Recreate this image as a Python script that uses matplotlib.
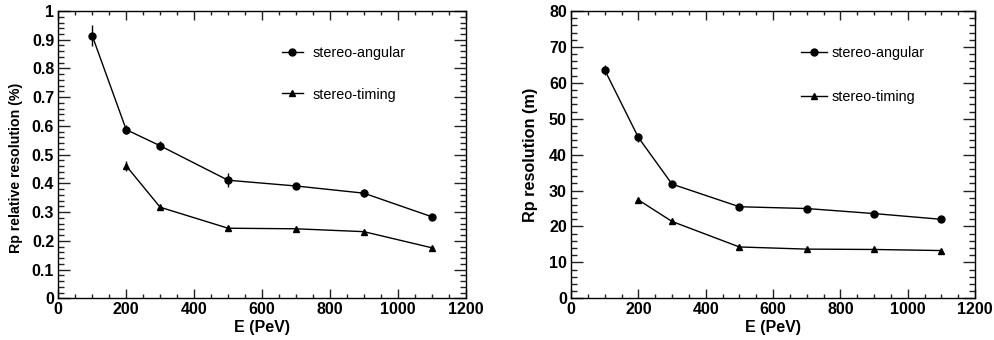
import matplotlib.pyplot as plt
from matplotlib.ticker import MultipleLocator, FuncFormatter

plt.rcParams['font.family'] = ['Liberation Sans', 'DejaVu Sans']

# energies (PeV)
e_angular = [100, 200, 300, 500, 700, 900, 1100]
e_timing = [200, 300, 500, 700, 900, 1100]

# Rp relative resolution (%)
rel_angular = [0.914, 0.587, 0.531, 0.411, 0.391, 0.366, 0.284]
rel_angular_err = [0.036, 0.015, 0.015, 0.024, 0.012, 0.013, 0.008]
rel_timing = [0.461, 0.317, 0.244, 0.242, 0.232, 0.176]
rel_timing_err = [0.018, 0.008, 0.006, 0.006, 0.006, 0.005]

# Rp resolution (m)
res_angular = [63.6, 44.8, 31.8, 25.5, 25.0, 23.6, 22.0]
res_angular_err = [1.5, 1.2, 0.8, 0.5, 0.5, 0.5, 0.4]
res_timing = [27.4, 21.4, 14.3, 13.7, 13.6, 13.3]
res_timing_err = [0.5, 0.4, 0.3, 0.3, 0.3, 0.3]


def style_axes(ax, ymax, ymajor, yminor):
    ax.set_xlim(0, 1200)
    ax.set_ylim(0, ymax)
    ax.xaxis.set_major_locator(MultipleLocator(200))
    ax.xaxis.set_minor_locator(MultipleLocator(50))
    ax.yaxis.set_major_locator(MultipleLocator(ymajor))
    ax.yaxis.set_minor_locator(MultipleLocator(yminor))
    ax.yaxis.set_major_formatter(FuncFormatter(lambda v, p: '%g' % round(v, 6)))
    ax.tick_params(which='both', direction='in', top=True, right=True,
                   width=1, color='#222222')
    ax.tick_params(axis='y', which='major', length=8.5, pad=3)
    ax.tick_params(axis='y', which='minor', length=4.3)
    ax.tick_params(axis='x', which='major', length=6.5, pad=3)
    ax.tick_params(axis='x', which='minor', length=3)
    for lab in ax.get_xticklabels() + ax.get_yticklabels():
        lab.set_fontweight('bold')
        lab.set_fontsize(11.5)
    for sp in ax.spines.values():
        sp.set_linewidth(1)
    ax.set_xlabel('E (PeV)', fontsize=11.5, fontweight='bold')
    ax.xaxis.set_label_coords(0.5, -0.077)


def draw(ax, ya, ya_err, yt, yt_err):
    ax.errorbar(e_angular, ya, yerr=ya_err, fmt='none', ecolor='black',
                elinewidth=1, capsize=0)
    ax.errorbar(e_timing, yt, yerr=yt_err, fmt='none', ecolor='black',
                elinewidth=1, capsize=0)
    ax.plot(e_angular, ya, '-o', color='black', lw=1, ms=5,
            label='stereo-angular')
    ax.plot(e_timing, yt, '-^', color='black', lw=1, ms=4.5,
            label='stereo-timing')


fig = plt.figure(figsize=(9.95, 3.4), dpi=100)
ax1 = fig.add_axes([0.0586, 0.1226, 0.4094, 0.845])
ax2 = fig.add_axes([0.5739, 0.1226, 0.406, 0.845])

draw(ax1, rel_angular, rel_angular_err, rel_timing, rel_timing_err)
style_axes(ax1, 1.0, 0.1, 0.02)
ax1.set_ylabel('Rp relative resolution (%)', fontsize=10.2, fontweight='bold')
ax1.yaxis.set_label_coords(-0.087, 0.453)
ax1.legend(loc='upper left', bbox_to_anchor=(0.55, 0.878), frameon=False,
           fontsize=10.4, handlelength=1.4, handletextpad=0.7,
           labelspacing=1.9, borderpad=0, borderaxespad=0)

draw(ax2, res_angular, res_angular_err, res_timing, res_timing_err)
style_axes(ax2, 80, 10, 2)
ax2.set_ylabel('Rp resolution (m)', fontsize=11.7, fontweight='bold')
ax2.yaxis.set_label_coords(-0.082, 0.5)
ax2.legend(loc='upper left', bbox_to_anchor=(0.569, 0.878), frameon=False,
           fontsize=10.4, handlelength=1.8, handletextpad=0.35,
           labelspacing=2.1, borderpad=0, borderaxespad=0)

fig.savefig('out.png', dpi=100)
